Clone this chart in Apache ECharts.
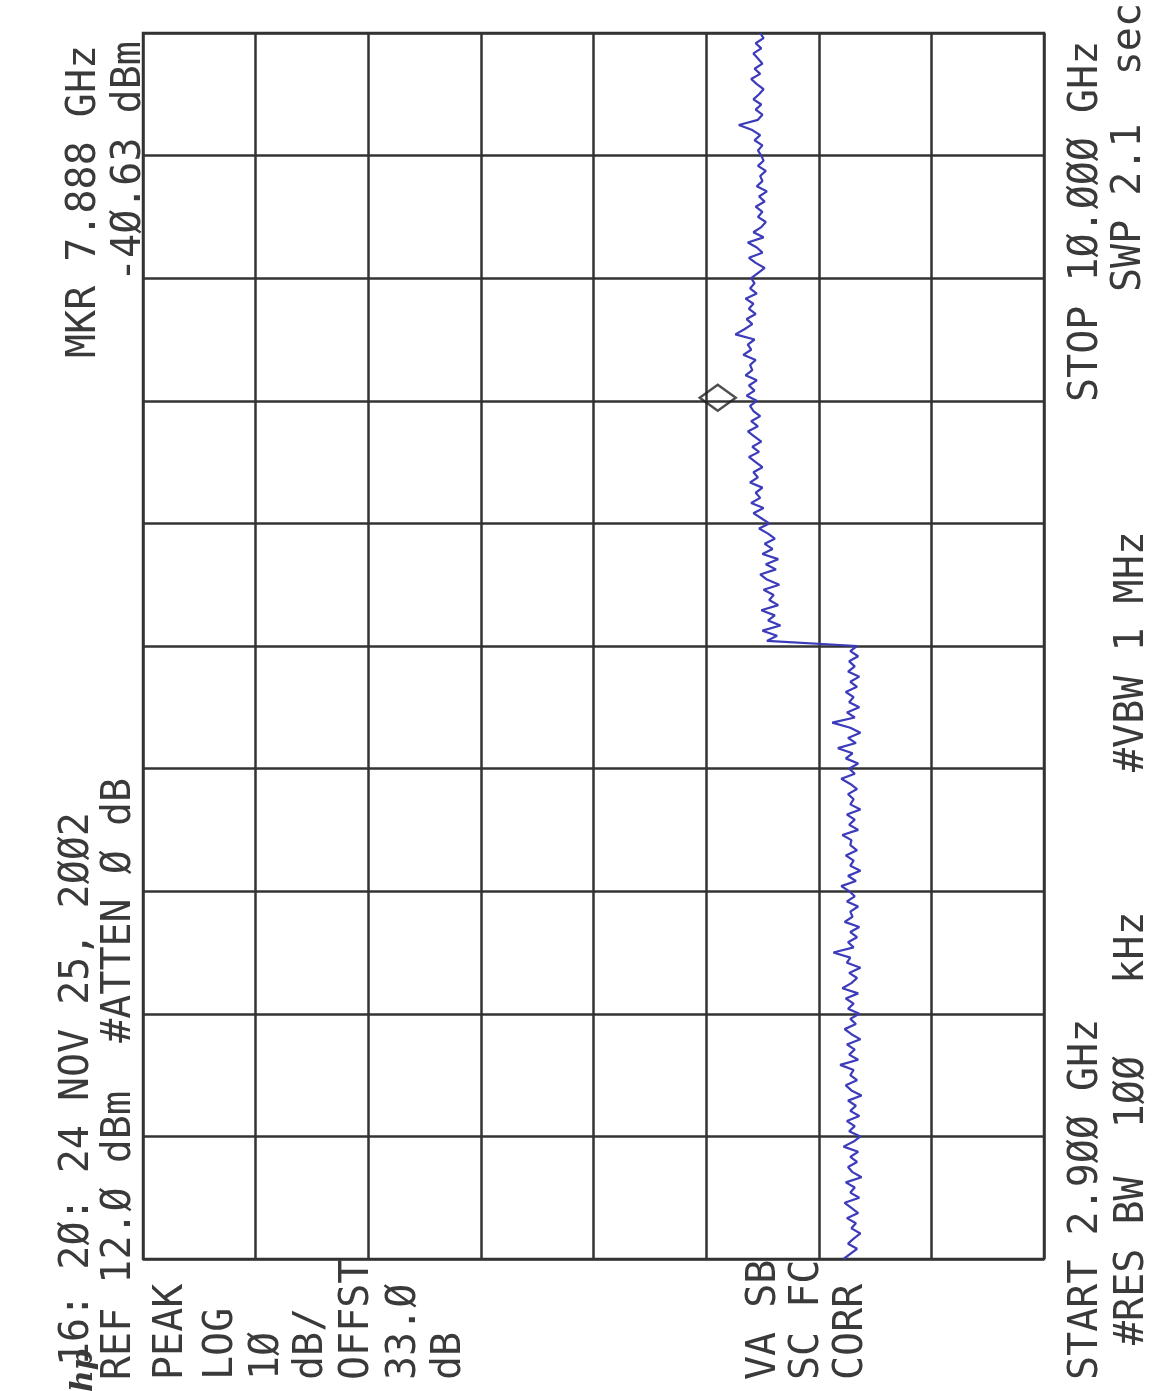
<!DOCTYPE html>
<html>
<head>
<meta charset="utf-8">
<script src="https://cdn.jsdelivr.net/npm/echarts@6/dist/echarts.min.js"></script>
<style>
  html, body { margin: 0; padding: 0; background: #ffffff; }
  #chart { width: 1154px; height: 1391px; }
</style>
</head>
<body>
<div id="chart"></div>
<script>
// ---------- data ----------
const FREQ_START_GHZ = 2.9;
const FREQ_STOP_GHZ = 10.0;
const REF_LEVEL_DBM = 12.0;
const DB_PER_DIV = 10;
const AMP_DIVS = 8;
const FREQ_DIVS = 10;

// trace amplitude (dBm), sweep point 0..120 (2.900 GHz → ~6.45 GHz)
const lowerTrace = [
  -50.2, -50.8, -51.4, -50.6, -51.1, -51.7, -50.9, -51.3, -50.5, -51.5,
  -50.9, -50.3, -51.6, -50.8, -51.2, -50.4, -51.8, -51.0, -50.6, -51.4,
  -50.8, -51.5, -50.2, -51.1, -51.7, -50.7, -51.2, -50.5, -51.6, -50.8,
  -51.3, -50.6, -51.8, -50.9, -50.4, -51.4, -50.8, -51.1, -49.9, -51.5,
  -50.7, -51.2, -50.5, -51.7, -50.9, -50.3, -51.3, -50.8, -51.6, -50.6,
  -51.1, -50.4, -51.5, -50.1, -50.9, -51.4, -50.7, -51.7, -50.5, -50.8,
  -49.3, -51.1, -50.6, -51.4, -50.8, -51.6, -50.3, -51.0, -50.8, -51.5,
  -50.5, -51.2, -50.7, -50.0, -51.3, -50.6, -51.7, -50.8, -51.1, -50.4,
  -51.4, -50.8, -50.9, -50.1, -51.5, -50.7, -51.2, -50.5, -51.7, -50.8,
  -51.1, -50.6, -51.4, -50.8, -50.0, -51.2, -50.7, -51.5, -50.4, -51.0,
  -49.7, -51.3, -50.6, -51.7, -50.8, -49.2, -51.2, -50.5, -51.6, -50.7,
  -51.1, -50.4, -51.4, -50.8, -51.6, -50.6, -51.2, -50.7, -51.5, -50.8,
  -51.4
];
// trace amplitude (dBm), sweep point 121..240 (~6.48 GHz → 10.000 GHz)
const upperTrace = [
  -43.4, -44.3, -43.0, -44.6, -43.5, -44.1, -42.9, -44.4, -43.6, -44.0,
  -43.1, -44.5, -43.4, -42.8, -44.2, -43.3, -44.4, -43.0, -43.9, -43.2,
  -44.1, -43.5, -42.7, -43.6,
  -42.9, -42.2, -43.1, -42.0, -42.8, -42.4, -43.0, -41.9, -42.6, -42.2,
  -43.0, -42.4, -41.8, -42.7, -42.1, -42.9, -42.3, -41.7, -42.6, -42.0,
  -42.8, -42.2, -41.9, -42.5,
  -41.6, -42.3, -41.8, -42.5, -41.5, -42.1, -41.9, -42.4, -41.3, -42.0,
  -41.7, -42.3, -40.6, -41.4, -42.1, -41.6, -42.4, -41.8, -42.2, -41.5,
  -42.5, -41.9, -42.3, -42.0,
  -42.6, -43.2, -42.4, -41.8, -43.0, -42.5, -41.7, -43.1, -42.2, -42.9,
  -43.3, -42.6, -43.0, -42.4, -43.2, -42.7, -43.4, -42.5, -43.0, -42.8,
  -43.3, -42.6, -43.1, -42.9,
  -42.6, -43.0, -42.3, -42.8, -42.1, -40.9, -42.6, -43.0, -42.4, -42.9,
  -42.2, -42.7, -43.1, -42.5, -42.0, -42.8, -42.3, -43.0, -42.6, -42.2,
  -42.9, -42.4, -43.1, -42.8
];
const markerFreqGHz = 7.888;
const markerAmpDbm = -40.63;

// annotation texts
const annotationTexts = [
  "16: 2Ø: 24 NOV 25, 2ØØ2",
  "REF 12.Ø dBm  #ATTEN Ø dB",
  "PEAK", "LOG", "1Ø", "dB/", "OFFST", "33.Ø", "dB",
  "VA SB", "SC FC", "CORR",
  "START 2.9ØØ GHz", "STOP 1Ø.ØØØ GHz",
  "#RES BW  1ØØ   kHz", "#VBW 1 MHz", "SWP 2.1  sec",
  "MKR 7.888 GHz", "-4Ø.63 dBm"
];
const logoText = "hp";

// ---------- layout (positions/styles) ----------
const textPos = [
  [78, 1366], [120, 1380],
  [172, 1380], [222, 1380], [268, 1380], [312, 1380], [358, 1380], [405, 1380], [450, 1380],
  [765, 1380], [808, 1380], [852, 1380],
  [1087, 1380], [1087, 402],
  [1133, 1345], [1133, 772], [1130, 292],
  [85, 358], [130, 282]
];

const allPoints = lowerTrace.concat(upperTrace);
const nPts = allPoints.length;
const traceData = allPoints.map((a, i) => [a, FREQ_START_GHZ + (FREQ_STOP_GHZ - FREQ_START_GHZ) * i / (nPts - 1)]);

const gridColor = '#333333';
const textColor = '#3a3a3a';
const FONT = '"DejaVu Sans Mono", monospace';

const graphics = annotationTexts.map((t, i) => ({
  type: 'text',
  x: textPos[i][0],
  y: textPos[i][1],
  rotation: Math.PI / 2,
  style: {
    text: t,
    font: '40px ' + FONT,
    fill: textColor,
    align: 'left',
    verticalAlign: 'middle'
  }
}));
graphics.push({
  type: 'text',
  x: 84, y: 1392,
  rotation: Math.PI / 2,
  style: {
    text: logoText,
    font: 'italic bold 30px "DejaVu Serif", serif',
    fill: textColor,
    align: 'left',
    verticalAlign: 'middle'
  }
});

const chart = echarts.init(document.getElementById('chart'), null, { renderer: 'canvas' });
const ampMin = REF_LEVEL_DBM - DB_PER_DIV * AMP_DIVS;
chart.setOption({
  animation: false,
  backgroundColor: '#ffffff',
  grid: {
    left: 143, top: 33, right: 110, bottom: 132,
    show: true, borderColor: gridColor, borderWidth: 2.5,
    backgroundColor: 'transparent'
  },
  xAxis: {
    type: 'value',
    min: ampMin, max: REF_LEVEL_DBM, interval: DB_PER_DIV,
    inverse: true,
    axisLine: { show: false }, axisTick: { show: false }, axisLabel: { show: false },
    splitLine: { show: true, lineStyle: { color: gridColor, width: 2.5 } }
  },
  yAxis: {
    type: 'value',
    min: FREQ_START_GHZ, max: FREQ_STOP_GHZ,
    interval: (FREQ_STOP_GHZ - FREQ_START_GHZ) / FREQ_DIVS,
    axisLine: { show: false }, axisTick: { show: false }, axisLabel: { show: false },
    splitLine: { show: true, lineStyle: { color: gridColor, width: 2.5 } }
  },
  series: [
    {
      type: 'line',
      data: traceData,
      showSymbol: false,
      symbol: 'none',
      lineStyle: { color: '#3b3bbb', width: 2.2 },
      z: 3
    },
    {
      type: 'scatter',
      data: [[markerAmpDbm, markerFreqGHz]],
      symbol: 'diamond',
      symbolSize: [36, 26],
      symbolOffset: [-18, 0],
      itemStyle: { color: 'rgba(0,0,0,0)', borderColor: '#222222', borderWidth: 2.5 },
      z: 4
    }
  ],
  graphic: graphics
});
</script>
</body>
</html>
